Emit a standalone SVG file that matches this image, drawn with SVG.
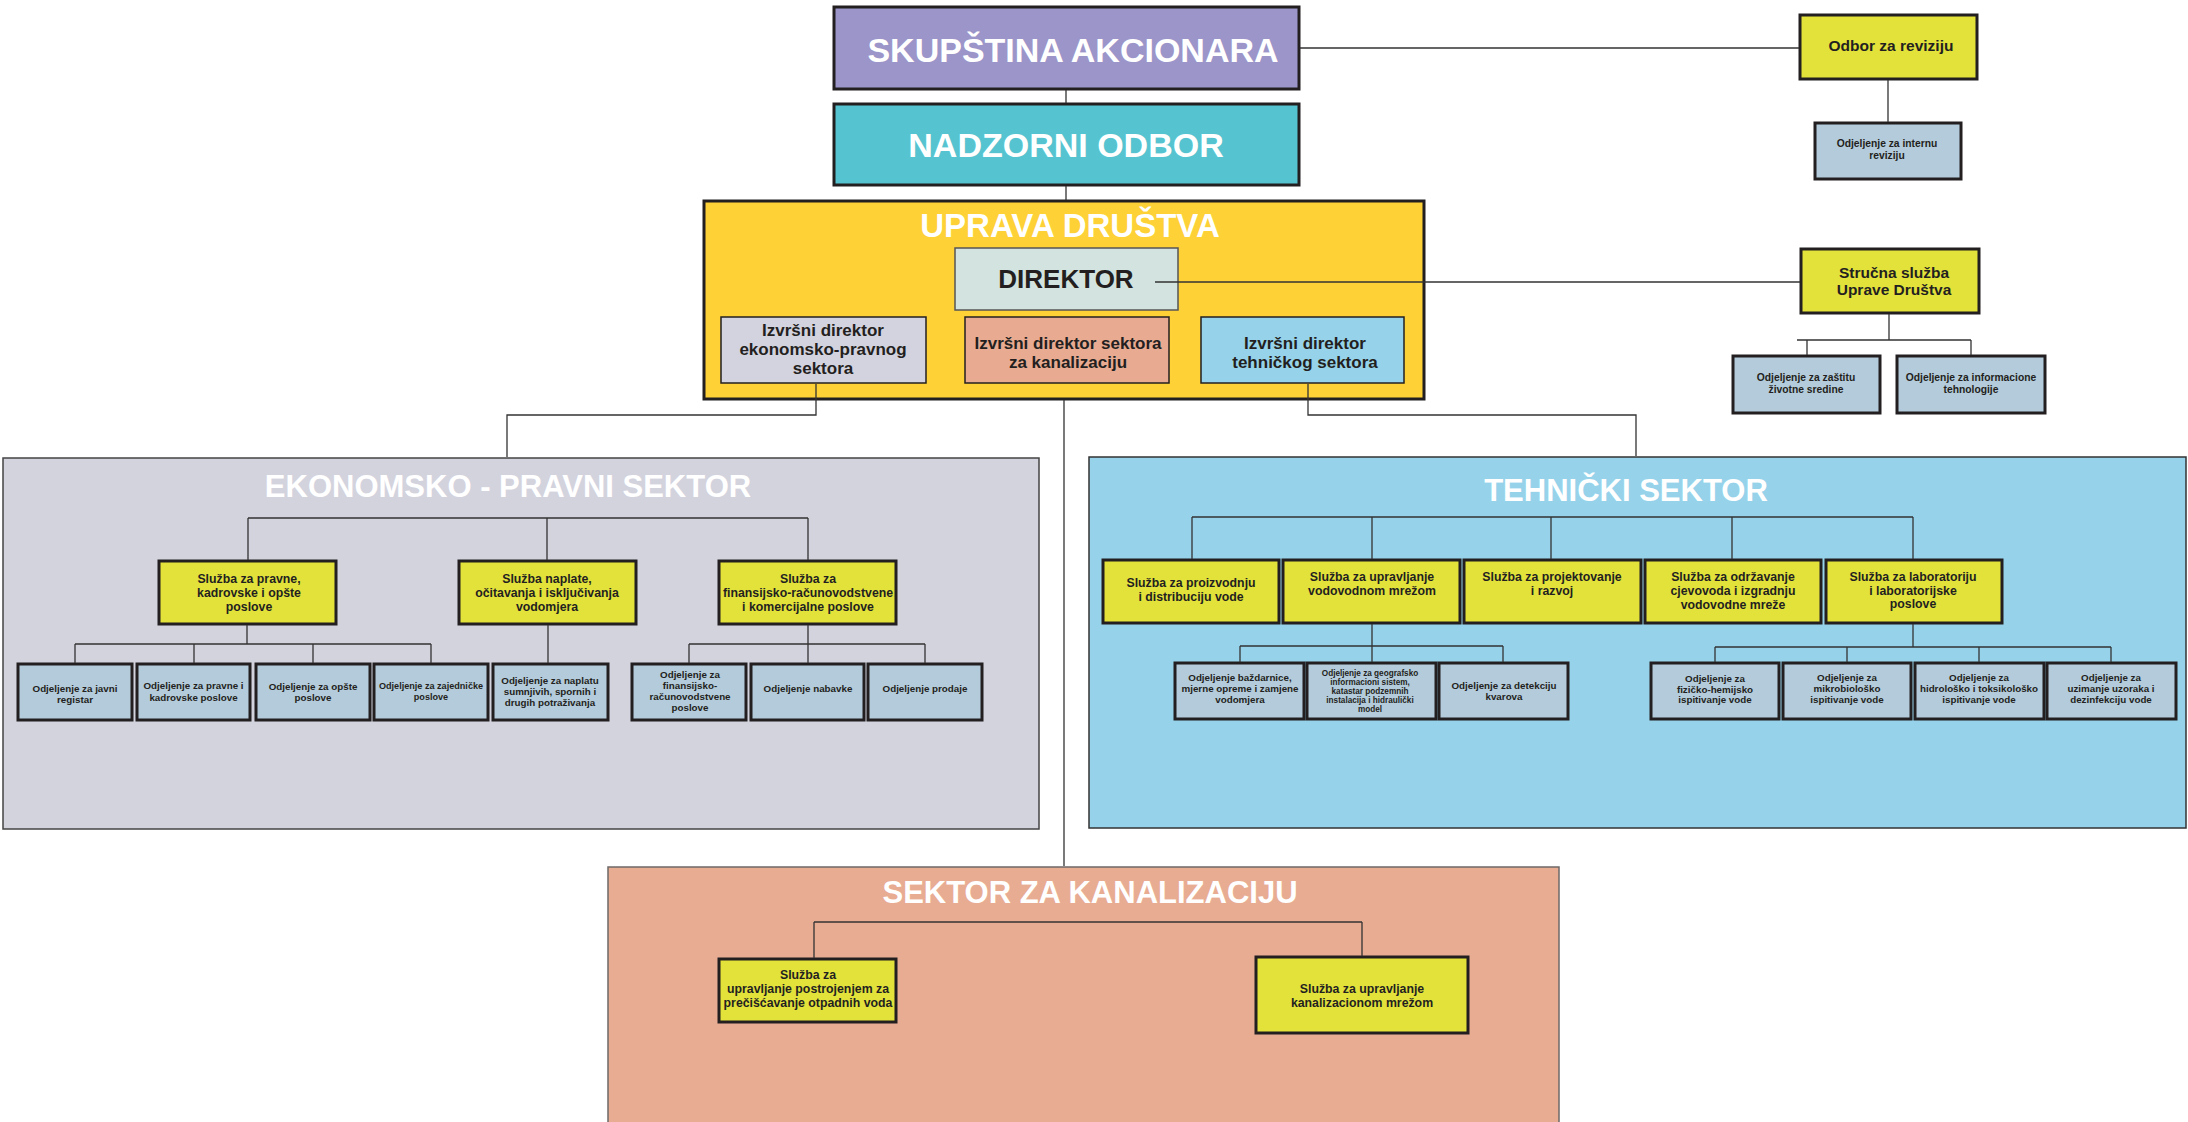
<svg xmlns="http://www.w3.org/2000/svg" width="2188" height="1122" viewBox="0 0 2188 1122">
<style>
text{font-family:"Liberation Sans",Arial,sans-serif;font-weight:bold;text-anchor:middle;fill:#231f20}
.ttl{fill:#ffffff}
.big{font-size:34px}
.sec{font-size:31px}
.izv{font-size:17px}
.mid{font-size:15.5px}
.s{font-size:12.3px}
.o{font-size:9.8px}
.o2{font-size:10.3px}
.o3{font-size:8.2px}
.sl{fill:#e3e23b;stroke:#231f20;stroke-width:3}
.od{fill:#b3cbdb;stroke:#231f20;stroke-width:3}
.thin{stroke:#231f20;stroke-width:1.5}
.ln{fill:none;stroke:#333333;stroke-width:1.3}
</style>
<rect width="2188" height="1122" fill="#ffffff"/>

<!-- sector containers -->
<g id="ekonomsko-pravni-sektor">
<rect x="3" y="458" width="1036" height="371" fill="#d3d3de" stroke="#444" stroke-width="1.5"/>
<text class="ttl sec" x="508" y="497">EKONOMSKO - PRAVNI SEKTOR</text>
</g>
<g id="tehnicki-sektor">
<rect x="1089" y="457" width="1097" height="371" fill="#96d3eb" stroke="#333" stroke-width="1.5"/>
<text class="ttl sec" x="1626" y="501">TEHNIČKI SEKTOR</text>
</g>
<g id="sektor-kanalizacija">
<rect x="608" y="867" width="951" height="270" fill="#e8ac93" stroke="#6d6868" stroke-width="1.5"/>
<text class="ttl sec" x="1090" y="903">SEKTOR ZA KANALIZACIJU</text>
</g>

<g id="skupstina">
<rect x="834" y="7" width="465" height="82" fill="#9b95c9" stroke="#231f20" stroke-width="3"/>
<text class="ttl big" x="1073" y="62">SKUPŠTINA AKCIONARA</text>
</g>
<g id="nadzorni-odbor">
<rect x="834" y="104" width="465" height="81" fill="#56c4d0" stroke="#231f20" stroke-width="3"/>
<text class="ttl big" x="1066" y="157">NADZORNI ODBOR</text>
</g>
<g id="uprava">
<rect x="704" y="201" width="720" height="198" fill="#fed136" stroke="#231f20" stroke-width="3"/>
<text class="ttl big" x="1070" y="237" style="font-size:33px">UPRAVA DRUŠTVA</text>
</g>
<g id="direktor">
<rect x="955" y="248" width="223" height="62" fill="#d3e3df" stroke="#555" stroke-width="1.5"/>
<text x="1066" y="288" style="font-size:26px">DIREKTOR</text>
</g>
<g id="izvrsni-ekonomski">
<rect class="thin" x="721" y="317" width="205" height="66" fill="#d3d3df"/>
<text class="izv" x="823"><tspan x="823" y="336">Izvršni direktor</tspan><tspan x="823" y="355">ekonomsko-pravnog</tspan><tspan x="823" y="374">sektora</tspan></text>
</g>
<g id="izvrsni-kanalizacija">
<rect class="thin" x="965" y="317" width="204" height="66" fill="#e8ab91"/>
<text class="izv" x="1068"><tspan x="1068" y="349">Izvršni direktor sektora</tspan><tspan x="1068" y="368">za kanalizaciju</tspan></text>
</g>
<g id="izvrsni-tehnicki">
<rect class="thin" x="1201" y="317" width="203" height="66" fill="#96d3ea"/>
<text class="izv" x="1305"><tspan x="1305" y="349">Izvršni direktor</tspan><tspan x="1305" y="368">tehničkog sektora</tspan></text>
</g>

<g id="odbor-revizija">
<rect class="sl" x="1800" y="15" width="177" height="64"/>
<text class="mid" x="1891" y="51">Odbor za reviziju</text>
</g>
<g id="odj-interna-revizija">
<rect class="od" x="1815" y="123" width="146" height="56"/>
<text class="o2" x="1887"><tspan x="1887" y="147">Odjeljenje za internu</tspan><tspan x="1887" y="158.5">reviziju</tspan></text>
</g>
<g id="strucna-sluzba">
<rect class="sl" x="1801" y="249" width="178" height="64"/>
<text class="mid" x="1894"><tspan x="1894" y="278">Stručna služba</tspan><tspan x="1894" y="295">Uprave Društva</tspan></text>
</g>
<g id="odj-zastita">
<rect class="od" x="1733" y="356" width="147" height="57"/>
<text class="o2" x="1806"><tspan x="1806" y="381">Odjeljenje za zaštitu</tspan><tspan x="1806" y="393">životne sredine</tspan></text>
</g>
<g id="odj-it">
<rect class="od" x="1897" y="356" width="148" height="57"/>
<text class="o2" x="1971"><tspan x="1971" y="381">Odjeljenje za informacione</tspan><tspan x="1971" y="393">tehnologije</tspan></text>
</g>

<!-- Ekonomsko-pravni -->
<g id="sl-pravne">
<rect class="sl" x="159" y="561" width="177" height="63"/>
<text class="s" x="249"><tspan x="249" y="583">Služba za pravne,</tspan><tspan x="249" y="597">kadrovske i opšte</tspan><tspan x="249" y="611">poslove</tspan></text>
</g>
<g id="sl-naplate">
<rect class="sl" x="459" y="561" width="177" height="63"/>
<text class="s" x="547"><tspan x="547" y="583">Služba naplate,</tspan><tspan x="547" y="597">očitavanja i isključivanja</tspan><tspan x="547" y="611">vodomjera</tspan></text>
</g>
<g id="sl-finansije">
<rect class="sl" x="719" y="561" width="177" height="63"/>
<text class="s" x="808"><tspan x="808" y="583">Služba za</tspan><tspan x="808" y="597">finansijsko-računovodstvene</tspan><tspan x="808" y="611">i komercijalne poslove</tspan></text>
</g>
<g id="odj-javni-registar">
<rect class="od" x="18" y="664" width="114" height="56"/>
<text class="o" x="75"><tspan x="75" y="692">Odjeljenje za javni</tspan><tspan x="75" y="703">registar</tspan></text>
</g>
<g id="odj-pravne-kadrovske">
<rect class="od" x="137" y="664" width="113" height="56"/>
<text class="o" x="193.5"><tspan x="193.5" y="689">Odjeljenje za pravne i</tspan><tspan x="193.5" y="700.5">kadrovske poslove</tspan></text>
</g>
<g id="odj-opste">
<rect class="od" x="256" y="664" width="114" height="56"/>
<text class="o" x="313"><tspan x="313" y="690">Odjeljenje za opšte</tspan><tspan x="313" y="701">poslove</tspan></text>
</g>
<g id="odj-zajednicke">
<rect class="od" x="374" y="664" width="114" height="56"/>
<text class="o" x="431" style="font-size:9.1px"><tspan x="431" y="689">Odjeljenje za zajedničke</tspan><tspan x="431" y="700">poslove</tspan></text>
</g>
<g id="odj-naplata">
<rect class="od" x="493" y="664" width="115" height="56"/>
<text class="o" x="550"><tspan x="550" y="684">Odjeljenje za naplatu</tspan><tspan x="550" y="695">sumnjivih, spornih i</tspan><tspan x="550" y="705.5">drugih potraživanja</tspan></text>
</g>
<g id="odj-finansije">
<rect class="od" x="632" y="664" width="114" height="56"/>
<text class="o" x="690"><tspan x="690" y="678">Odjeljenje za</tspan><tspan x="690" y="689">finansijsko-</tspan><tspan x="690" y="700">računovodstvene</tspan><tspan x="690" y="711">poslove</tspan></text>
</g>
<g id="odj-nabavke">
<rect class="od" x="751" y="664" width="113" height="56"/>
<text class="o" x="808" y="692">Odjeljenje nabavke</text>
</g>
<g id="odj-prodaje">
<rect class="od" x="868" y="664" width="114" height="56"/>
<text class="o" x="925" y="692">Odjeljenje prodaje</text>
</g>

<!-- Tehnicki -->
<g id="sl-proizvodnja">
<rect class="sl" x="1103" y="560" width="176" height="63"/>
<text class="s" x="1191"><tspan x="1191" y="587">Služba za proizvodnju</tspan><tspan x="1191" y="601">i distribuciju vode</tspan></text>
</g>
<g id="sl-vodovodna-mreza">
<rect class="sl" x="1283" y="560" width="177" height="63"/>
<text class="s" x="1372"><tspan x="1372" y="581">Služba za upravljanje</tspan><tspan x="1372" y="595">vodovodnom mrežom</tspan></text>
</g>
<g id="sl-projektovanje">
<rect class="sl" x="1464" y="560" width="177" height="63"/>
<text class="s" x="1552"><tspan x="1552" y="581">Služba za projektovanje</tspan><tspan x="1552" y="595">i razvoj</tspan></text>
</g>
<g id="sl-odrzavanje">
<rect class="sl" x="1645" y="560" width="176" height="63"/>
<text class="s" x="1733"><tspan x="1733" y="581">Služba za održavanje</tspan><tspan x="1733" y="595">cjevovoda i izgradnju</tspan><tspan x="1733" y="609">vodovodne mreže</tspan></text>
</g>
<g id="sl-laboratorija">
<rect class="sl" x="1826" y="560" width="176" height="63"/>
<text class="s" x="1913"><tspan x="1913" y="581">Služba za laboratoriju</tspan><tspan x="1913" y="595">i laboratorijske</tspan><tspan x="1913" y="608">poslove</tspan></text>
</g>
<g id="odj-bazdarnica">
<rect class="od" x="1175" y="663" width="129" height="56"/>
<text class="o" x="1240"><tspan x="1240" y="681">Odjeljenje baždarnice,</tspan><tspan x="1240" y="692">mjerne opreme i zamjene</tspan><tspan x="1240" y="703">vodomjera</tspan></text>
</g>
<g id="odj-gis">
<rect class="od" x="1307" y="663" width="129" height="56"/>
<text class="o3" x="1370"><tspan x="1370" y="676">Odjeljenje za geografsko</tspan><tspan x="1370" y="685">informacioni sistem,</tspan><tspan x="1370" y="694">katastar podzemnih</tspan><tspan x="1370" y="703">instalacija i hidraulički</tspan><tspan x="1370" y="711.5">model</tspan></text>
</g>
<g id="odj-detekcija">
<rect class="od" x="1439" y="663" width="129" height="56"/>
<text class="o" x="1504"><tspan x="1504" y="689">Odjeljenje za detekciju</tspan><tspan x="1504" y="700">kvarova</tspan></text>
</g>
<g id="odj-fizicko-hemijsko">
<rect class="od" x="1651" y="663" width="128" height="56"/>
<text class="o" x="1715"><tspan x="1715" y="682">Odjeljenje za</tspan><tspan x="1715" y="692.5">fizičko-hemijsko</tspan><tspan x="1715" y="703">ispitivanje vode</tspan></text>
</g>
<g id="odj-mikrobiolosko">
<rect class="od" x="1783" y="663" width="128" height="56"/>
<text class="o" x="1847"><tspan x="1847" y="681">Odjeljenje za</tspan><tspan x="1847" y="692">mikrobiološko</tspan><tspan x="1847" y="703">ispitivanje vode</tspan></text>
</g>
<g id="odj-hidrolosko">
<rect class="od" x="1915" y="663" width="129" height="56"/>
<text class="o" x="1979"><tspan x="1979" y="681">Odjeljenje za</tspan><tspan x="1979" y="692">hidrološko i toksikološko</tspan><tspan x="1979" y="703">ispitivanje vode</tspan></text>
</g>
<g id="odj-uzorci">
<rect class="od" x="2047" y="663" width="129" height="56"/>
<text class="o" x="2111"><tspan x="2111" y="681">Odjeljenje za</tspan><tspan x="2111" y="692">uzimanje uzoraka i</tspan><tspan x="2111" y="703">dezinfekciju vode</tspan></text>
</g>

<!-- Kanalizacija -->
<g id="sl-postrojenje">
<rect class="sl" x="719" y="959" width="177" height="63"/>
<text class="s" x="808"><tspan x="808" y="979">Služba za</tspan><tspan x="808" y="993">upravljanje postrojenjem za</tspan><tspan x="808" y="1007">prečišćavanje otpadnih voda</tspan></text>
</g>
<g id="sl-kanalizaciona-mreza">
<rect class="sl" x="1256" y="957" width="212" height="76"/>
<text class="s" x="1362"><tspan x="1362" y="993">Služba za upravljanje</tspan><tspan x="1362" y="1007">kanalizacionom mrežom</tspan></text>
</g>

<g id="connectors">
<path class="ln" d="M1066,90V103M1066,186V200M1300,48H1799M1888,80V122M1155,282H1800"/>
<path class="ln" d="M1889,314V340M1797,340H1971M1807,340V355M1971,340V355"/>
<path class="ln" d="M816,384V415H507V457M1308,384V415H1636V456M1064,400V866"/>
<path class="ln" d="M248,518H808M248,518V560M547,518V560M808,518V560"/>
<path class="ln" d="M247,625V644M75,644H431M75,644V663M194,644V663M313,644V663M431,644V663"/>
<path class="ln" d="M548,625V663"/>
<path class="ln" d="M808,625V644M689,644H925M689,644V663M808,644V663M925,644V663"/>
<path class="ln" d="M1192,517H1913M1192,517V559M1372,517V559M1551,517V559M1732,517V559M1913,517V559"/>
<path class="ln" d="M1372,624V646M1240,646H1503M1240,646V662M1372,646V662M1503,646V662"/>
<path class="ln" d="M1913,624V647M1715,647H2111M1715,647V662M1847,647V662M1979,647V662M2111,647V662"/>
<path class="ln" d="M814,922H1362M814,922V958M1362,922V956"/>
</g>
</svg>
